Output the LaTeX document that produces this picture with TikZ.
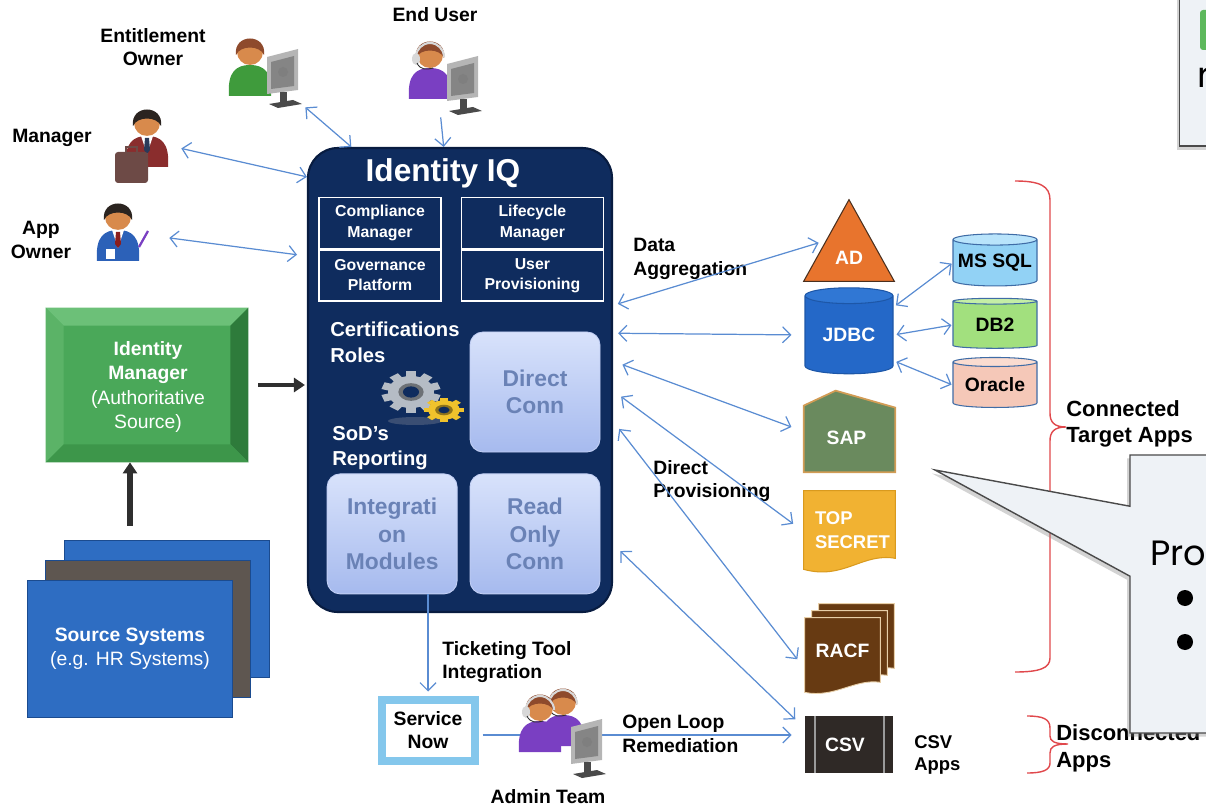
\documentclass[tikz,border=0pt]{standalone}
\usepackage{fontspec}
\setmainfont{Liberation Sans}
\newfontfamily\notefont{Poppins}
\usetikzlibrary{
    positioning,
    arrows.meta,
    calc,
    shapes.geometric,
    shapes.callouts,
    shadows
}

% palette
\definecolor{iiqnavy}{HTML}{0F2C5E}
\definecolor{iiqedge}{HTML}{081C40}
\definecolor{conntop}{HTML}{D8E2FB}
\definecolor{connbot}{HTML}{A6BAEE}
\definecolor{connedge}{HTML}{C3D0F5}
\definecolor{conntext}{HTML}{6A82B6}
\definecolor{linkblue}{HTML}{5A8CD2}
\definecolor{darkline}{HTML}{2F2F2F}
\definecolor{idmface}{HTML}{4AA859}
\definecolor{idmtop}{HTML}{6CC078}
\definecolor{idmleft}{HTML}{5BB367}
\definecolor{idmright}{HTML}{2E7B3B}
\definecolor{idmbottom}{HTML}{3D964A}
\definecolor{srcblue}{HTML}{2E6DC2}
\definecolor{srcgray}{HTML}{5E5650}
\definecolor{cardedge}{HTML}{1B4B8F}
\definecolor{adorange}{HTML}{E8742D}
\definecolor{adedge}{HTML}{4A2F1E}
\definecolor{jdbcblue}{HTML}{2468C8}
\definecolor{jdbctop}{HTML}{3077D4}
\definecolor{jdbcedge}{HTML}{1D57A8}
\definecolor{sqlblue}{HTML}{92D2F5}
\definecolor{sqltop}{HTML}{B9E4FB}
\definecolor{db2green}{HTML}{A2E07E}
\definecolor{db2top}{HTML}{C4EEA6}
\definecolor{oraclepink}{HTML}{F5C8B8}
\definecolor{oracletop}{HTML}{FADCD0}
\definecolor{dbedge}{HTML}{3F6CA6}
\definecolor{sapgreen}{HTML}{6A8A5E}
\definecolor{sapedge}{HTML}{D29C55}
\definecolor{secretgold}{HTML}{F1B232}
\definecolor{secretedge}{HTML}{D99A1E}
\definecolor{racfbrown}{HTML}{673A12}
\definecolor{racfedge}{HTML}{E8CFA8}
\definecolor{csvdark}{HTML}{2F2926}
\definecolor{csvline}{HTML}{9A9A9A}
\definecolor{bracered}{HTML}{E0484C}
\definecolor{notefill}{HTML}{EEF2F6}
\definecolor{noteedge}{HTML}{4A4A4A}
\definecolor{taggreen}{HTML}{5DB85C}
\definecolor{snowblue}{HTML}{84C7EC}
\definecolor{skin}{HTML}{D88A4C}
\definecolor{hairdark}{HTML}{2B2420}
\definecolor{hairauburn}{HTML}{8E4A2C}
\definecolor{ownergreen}{HTML}{3F9B3C}
\definecolor{userpurple}{HTML}{7A3FC2}
\definecolor{suitred}{HTML}{8A2D2D}
\definecolor{suitblue}{HTML}{2C61B8}
\definecolor{tiered}{HTML}{8B1E1E}
\definecolor{tiedark}{HTML}{2A3A5A}
\definecolor{casebrown}{HTML}{6D4A46}
\definecolor{screenback}{HTML}{B5B5B5}
\definecolor{screenface}{HTML}{858585}
\definecolor{screenstand}{HTML}{4A4A4A}
\definecolor{headsetgray}{HTML}{D8D8D8}
\definecolor{gearsilver}{HTML}{B5BCC5}
\definecolor{gearyellow}{HTML}{F0C22C}
\definecolor{gearshadow}{HTML}{3A4E73}

\begin{document}
\begin{tikzpicture}[
    x=0.2mm, y=-0.2mm,
    lbl/.style={font=\fontsize{11}{13.5}\selectfont\bfseries, align=center, inner sep=0pt},
    sidelbl/.style={lbl, align=left, anchor=west},
    holder/.style={inner sep=0pt},
    module/.style={
        draw=white, line width=0.8pt, text=white, align=center,
        font=\fontsize{9}{11.5}\selectfont\bfseries,
        minimum width=24.4mm, minimum height=10.2mm, inner sep=0pt
    },
    conn/.style={
        rounded corners=2.6mm, top color=conntop, bottom color=connbot,
        draw=connedge, line width=0.5pt, text=conntext, align=center,
        font=\fontsize{13}{15.5}\selectfont\bfseries,
        minimum width=26mm, minimum height=24mm
    },
    feature/.style={
        text=white, align=left, anchor=north west, inner sep=0pt,
        font=\fontsize{11.5}{14.5}\selectfont\bfseries
    },
    db/.style={
        cylinder, shape border rotate=90, draw=dbedge, line width=0.6pt,
        cylinder uses custom fill, inner sep=0pt,
        font=\fontsize{11}{13}\selectfont\bfseries
    },
    appname/.style={text=white, inner sep=0pt, font=\fontsize{11}{13}\selectfont\bfseries},
    card/.style={draw=cardedge, line width=0.8pt, minimum width=41mm, minimum height=27.4mm},
    link/.style={{Straight Barb[length=1.6mm,width=3.2mm]}-{Straight Barb[length=1.6mm,width=3.2mm]},
        draw=linkblue, line width=0.7pt},
    feed/.style={-{Straight Barb[length=1.6mm,width=3.2mm]}, draw=linkblue, line width=0.7pt},
    heavy/.style={-{Triangle[length=2.2mm,width=2.8mm]}, draw=darkline, line width=1.3mm},
    redbrace/.style={draw=bracered, line width=0.8pt},
    note/.style={fill=notefill, draw=noteedge, line width=0.8pt,
        drop shadow={shadow xshift=-0.6mm, shadow yshift=-0.7mm, opacity=0.35}},
    bulletdot/.style={circle, fill=black, inner sep=0pt, minimum size=3.2mm},
    pics/figure/.style n args={2}{code={
        \fill[#1] (-21,44) .. controls (-23,19) and (-13,13) .. (0,13)
            .. controls (13,13) and (23,19) .. (21,44) -- cycle;
        \fill[skin] (0,0) circle (13);
        \fill[#2] (-14,3) .. controls (-17,-19) and (17,-19) .. (14,3)
            .. controls (10,-7) and (-10,-7) .. (-14,3) -- cycle;
    }},
    pics/tie/.style={code={
        \fill[white] (-6,13) -- (6,13) -- (0,31) -- cycle;
        \fill[#1] (-2,15) -- (2,15) -- (3,27) -- (0,31) -- (-3,27) -- cycle;
    }},
    pics/headset/.style={code={
        \draw[headsetgray, line width=1.2pt] (-14,2) arc (180:360:14);
        \fill[headsetgray] (-14,4) ellipse (4 and 6);
        \draw[darkline, line width=0.5pt] (-13,8) .. controls (-10,15) and (-3,15) .. (3,13);
    }},
    pics/screen/.style={code={
        \fill[screenback] (-16,-18) -- (15,-26) -- (15,15) -- (-16,19) -- cycle;
        \fill[screenface] (-12,-13) -- (11,-19) -- (11,11) -- (-12,14) -- cycle;
        \fill[screenback!70!black] (0,-3) circle (5);
        \fill[screenstand] (-3,17) rectangle (4,27);
        \fill[screenstand] (-14,29) -- (10,25) -- (19,29) -- (-5,33) -- cycle;
    }},
    pics/gear/.style n args={3}{code={
        \foreach \k in {1,...,#3}
            \fill[#1, rotate=\k*360/#3] (-0.22*#2,-1.28*#2) rectangle (0.22*#2,-0.8*#2);
        \fill[#1] (0,0) circle (#2);
        \fill[#1!60!black] (0,0) circle (0.55*#2);
        \fill[iiqnavy] (0,0) circle (0.35*#2);
    }}
]

\useasboundingbox (0,0) rectangle (1206,808);
\clip (0,0) rectangle (1206,808);

% ============================== USERS ==============================
\node[lbl] (entlbl) at (153,47) {Entitlement\\Owner};
\node[holder, minimum width=16mm, minimum height=12.8mm] (entown) at (265,75) {};
\pic at ($(entown)+(-15,-23)$) {figure={ownergreen}{hairauburn}};
\pic at ($(entown)+(18,0)$) {screen};

\node[lbl] (endlbl) at (435,15) {End User};
\node[holder, minimum width=18mm, minimum height=12mm] (enduser) at (440,80) {};
\pic at ($(enduser)+(-10,-25)$) {figure={userpurple}{hairauburn}};
\pic at ($(enduser)+(-10,-25)$) {headset};
\pic at ($(enduser)+(23,2)$) {screen};

\node[lbl] (mgrlbl) at (52,138) {Manager};
\node[holder, minimum width=13.6mm, minimum height=16mm] (mgr) at (145,148) {};
\pic at ($(mgr)+(2,-25)$) {figure={suitred}{hairdark}};
\pic at ($(mgr)+(2,-25)$) {tie=tiedark};
\fill[casebrown, rounded corners=0.6mm] ($(mgr)+(-30,4)$) rectangle ($(mgr)+(3,35)$);
\draw[casebrown, line width=1pt] ($(mgr)+(-19,4)$) -- ++(0,-5) -- ++(11,0) -- ++(0,5);

\node[lbl] (applbl) at (41,240) {App\\Owner};
\node[holder, minimum width=14mm, minimum height=14mm] (appown) at (127,237) {};
\pic at ($(appown)+(-9,-20)$) {figure={suitblue}{hairdark}};
\pic at ($(appown)+(-9,-20)$) {tie=tiered};
\fill[white] ($(appown)+(-21,12)$) rectangle ($(appown)+(-12,22)$);
\draw[userpurple, line width=1.3pt] ($(appown)+(12,10)$) -- ($(appown)+(21,-6)$);

% ============================== IDENTITY IQ ==============================
\node[draw=iiqedge, fill=iiqnavy, line width=1.2pt, rounded corners=6mm,
      minimum width=60.8mm, minimum height=92.8mm] (iiq) at (460,380) {};
\node[text=white, font=\fontsize{18}{20}\selectfont\bfseries] (iiqtitle) at (443,173) {Identity IQ};

% IIQ: product modules
\node[module] (cm) at (380,223) {Compliance\\Manager};
\node[module, minimum width=28.4mm, right=3.8mm of cm] (lm) {Lifecycle\\Manager};
\node[module, below=0pt of cm] (gp) {Governance\\Platform};
\node[module, minimum width=28.4mm, below=0pt of lm] (up) {User\\Provisioning};

% IIQ: features and connectors
\node[feature] (certs) at (330,322) {Certifications\\Roles};
\node[feature] (sod) at (332,426) {SoD's\\Reporting};

\fill[gearshadow] (415,421) ellipse (27 and 4);
\pic[yscale=0.7] at (411,392) {gear={gearsilver}{23}{10}};
\pic[yscale=0.6] at (444,410) {gear={gearyellow}{16}{8}};

\node[conn] (dconn) at (535,392) {Direct\\Conn};
\node[conn, below=4.2mm of dconn] (rdconn) {Read\\Only\\Conn};
\node[conn, left=2.4mm of rdconn] (intmod) {Integrati\\on\\Modules};

% ============================== AUTHORITATIVE SOURCE ==============================
\node[fill=idmface, minimum width=40.4mm, minimum height=30.8mm] (idm) at (147,385) {};
\fill[idmtop] (idm.north west) -- (idm.north east) -- ($(idm.north east)+(-18,18)$) -- ($(idm.north west)+(18,18)$) -- cycle;
\fill[idmleft] (idm.north west) -- (idm.south west) -- ($(idm.south west)+(18,-18)$) -- ($(idm.north west)+(18,18)$) -- cycle;
\fill[idmright] (idm.north east) -- (idm.south east) -- ($(idm.south east)+(-18,-18)$) -- ($(idm.north east)+(-18,18)$) -- cycle;
\fill[idmbottom] (idm.south west) -- (idm.south east) -- ($(idm.south east)+(-18,-18)$) -- ($(idm.south west)+(18,-18)$) -- cycle;
\node[text=white, align=center, font=\fontsize{11}{14}\selectfont] (idmtext) at (148,387)
    {\textbf{Identity}\\\textbf{Manager}\\(Authoritative\\Source)};

\node[card, fill=srcblue] (srcback) at (167,609) {};
\node[card, fill=srcgray] (srcmid) at (148,629) {};
\node[card, fill=srcblue, text=white, align=center, font=\fontsize{11}{13.5}\selectfont] (src) at (130,649)
    {\textbf{Source Systems}\\(e.g. HR Systems)};

\draw[heavy] ($(src.north |- srcback.north)+(0,-14)$) -- (src.north |- idm.south);
\draw[heavy, line width=0.8mm, shorten <=2mm, shorten >=0.4mm] (idm.east) -- (idm.east -| iiq.west);

% user links
\draw[link] (entown.south east) -- (iiq.115.8);
\draw[feed, shorten <=1.4mm] (enduser.south) -- (iiq.94.9);
\draw[link, shorten <=0.4mm] (mgr.east) -- (iiq.127.9);
\draw[link, shorten <=1.4mm, shorten >=2mm] (appown.east) -- (iiq.141.3);

% ============================== TARGET APPS ==============================
\node[holder, minimum width=18mm, minimum height=16.2mm] (ad) at (849,240.5) {};
\filldraw[fill=adorange, draw=adedge, line width=0.6pt] (ad.south west) -- (ad.north) -- (ad.south east) -- cycle;
\node[appname] (adname) at ($(ad)+(0,17)$) {AD};

\node[db, cylinder body fill=jdbcblue, cylinder end fill=jdbctop, draw=jdbcedge, text=white,
      minimum width=17.6mm, minimum height=17.2mm, aspect=0.3] (jdbc) at (849,335) {JDBC};
\node[db, cylinder body fill=sqlblue, cylinder end fill=sqltop,
      minimum width=16.8mm, minimum height=10.4mm, aspect=0.15] (mssql) at (995,263) {MS SQL};
\node[db, cylinder body fill=db2green, cylinder end fill=db2top,
      minimum width=16.8mm, minimum height=10mm, aspect=0.15] (db2) at (995,325) {DB2};
\node[db, cylinder body fill=oraclepink, cylinder end fill=oracletop,
      minimum width=16.8mm, minimum height=10mm, aspect=0.15] (oracle) at (995,385) {Oracle};

\node[holder, minimum width=18.2mm, minimum height=16.2mm] (sap) at (849.5,431.5) {};
\filldraw[fill=sapgreen, draw=sapedge, line width=1pt] (sap.south west) -- ($(sap.north west)+(0,15)$)
    -- ($(sap.north west)+(32,0)$) -- ($(sap.north east)+(0,17)$) -- (sap.south east) -- cycle;
\node[appname] (sapname) at ($(sap)+(-3,6)$) {SAP};

\node[holder, minimum width=18.2mm, minimum height=16.2mm] (topsec) at (849.5,531.5) {};
\filldraw[fill=secretgold, draw=secretedge, line width=0.6pt] (topsec.north west) -- (topsec.north east)
    -- ($(topsec.south east)+(0,-14)$) .. controls ($(topsec.south east)+(-33,-20)$) and ($(topsec.south west)+(40,8)$)
    .. ($(topsec.south west)+(0,-3)$) -- cycle;
\node[appname, align=left, anchor=north west, font=\fontsize{10.5}{13.5}\selectfont\bfseries] (topsecname)
    at ($(topsec.north west)+(11,21)$) {TOP\\SECRET};

\node[holder, minimum width=15mm, minimum height=14.8mm] (racf) at (842.5,655) {};
\foreach \d in {14,7,0}
    \filldraw[fill=racfbrown, draw=racfedge, line width=0.5pt] ($(racf.north west)+(\d,-\d)$) -- ($(racf.north east)+(\d,-\d)$)
        -- ($(racf.south east)+(\d,-\d-10)$) .. controls ($(racf.south east)+(\d-25,-\d-14)$) and ($(racf.south west)+(\d+30,-\d+6)$)
        .. ($(racf.south west)+(\d,-\d)$) -- cycle;
\node[appname] (racfname) at ($(racf)+(0,-4)$) {RACF};

\node[holder, fill=csvdark, minimum width=17.6mm, minimum height=11.4mm] (csv) at (849,744.5) {};
\draw[csvline, line width=1.2pt] ($(csv.north west)+(10,0)$) -- ($(csv.south west)+(10,0)$);
\draw[csvline, line width=1.2pt] ($(csv.north east)+(-9,0)$) -- ($(csv.south east)+(-9,0)$);
\node[appname] (csvname) at ($(csv)+(-4,0)$) {CSV};
\node[sidelbl, font=\fontsize{10.5}{13}\selectfont\bfseries] (csvlbl) at (914,755) {CSV\\Apps};

% flow labels
\node[sidelbl] (agglbl) at (633,259) {Data\\Aggregation};
\node[sidelbl] (provlbl) at (653,481) {Direct\\Provisioning};

% IIQ to apps
\draw[link, shorten <=1mm, shorten >=1.6mm] (iiq.26) -- ($(ad.south west)!0.5!(ad.north)$);
\draw[link, shorten <=1mm, shorten >=2.6mm] (iiq.17) -- (jdbc.west);
\draw[link, shorten <=2mm, shorten >=2.6mm] (iiq.7.5) -- (sap.west);
\draw[link, shorten <=2mm, shorten >=2.6mm] (iiq.-4.5) -- (topsec.west);
\draw[link, shorten <=2mm, shorten >=2.4mm] (iiq.-15.5) -- (racf.200);
\draw[link, shorten <=2mm, shorten >=2.6mm] (iiq.-47.3) -- (csv.160);

% JDBC to databases
\draw[link, shorten <=0.6mm, shorten >=0.2mm] (jdbc.32) -- (mssql.west);
\draw[link, shorten <=0.6mm, shorten >=0.2mm] (jdbc.east) -- (db2.west);
\draw[link, shorten <=0.6mm, shorten >=0.2mm] (jdbc.-30) -- (oracle.west);

% ============================== TICKETING ==============================
\node[draw=snowblue, line width=1.6mm, fill=white, minimum width=18.6mm, minimum height=12.2mm,
      align=center, font=\fontsize{11}{13.5}\selectfont\bfseries] (snow) at (428,730) {Service\\Now};
\draw[feed, shorten >=0.8mm] (intmod.south -| snow.north) -- (snow.north);
\node[sidelbl] (ticketlbl) at (442,662) {Ticketing Tool\\Integration};

\draw[feed, shorten <=0.8mm, shorten >=2.6mm] ($(snow.east)+(0,5)$) -- ($(snow.east -| csv.west)+(0,5)$);
\node[sidelbl] (looplbl) at (622,734) {Open Loop\\Remediation};

\node[holder, minimum width=16mm, minimum height=14mm] (admins) at (558,738) {};
\pic at ($(admins)+(5,-36)$) {figure={userpurple}{hairauburn}};
\pic at ($(admins)+(5,-36)$) {headset};
\pic at ($(admins)+(-18,-30)$) {figure={userpurple}{hairauburn}};
\pic at ($(admins)+(-18,-30)$) {headset};
\pic at ($(admins)+(29,7)$) {screen};
\node[lbl] (admlbl) at (548,797) {Admin Team};

% ============================== GROUPING ==============================
\draw[redbrace] (1015,181) .. controls (1040,181) and (1050,186) .. (1050,200) -- (1050,413)
    .. controls (1050,422) and (1054,427) .. (1066,427) .. controls (1054,427) and (1050,432) .. (1050,441)
    -- (1050,658) .. controls (1050,668) and (1040,672) .. (1015,672);
\node[sidelbl, font=\fontsize{12.5}{14.8}\selectfont\bfseries] (connlbl) at (1066,424) {Connected\\Target Apps};

\draw[redbrace] (1027,716) .. controls (1043,716) and (1050,719) .. (1050,728) -- (1050,736)
    .. controls (1050,741) and (1054,744) .. (1068,744) .. controls (1054,744) and (1050,747) .. (1050,753)
    -- (1050,763) .. controls (1050,770) and (1043,773) .. (1027,773);
\node[sidelbl, font=\fontsize{12.5}{15.3}\selectfont\bfseries] (disclbl) at (1056,748) {Disconnected\\Apps};

% ============================== NOTES ==============================
\node[note, minimum width=24.2mm, minimum height=40mm] (notetop) at (1240,46) {};
\node[fill=taggreen, rounded corners=0.6mm, minimum width=8mm, minimum height=8mm] (notetag) at (1220,30) {};
\node[font=\notefont\fontsize{20}{24}\selectfont, anchor=base west, inner sep=0pt] (notetext) at (1197,88) {r};

\node[rectangle callout, note, minimum width=58mm, minimum height=55.6mm,
      callout absolute pointer={(935,470)}, callout pointer width=14mm] (notebig) at (1275,594) {};
\node[font=\notefont\fontsize{20}{24}\selectfont, anchor=base west, inner sep=0pt] (notehead) at (1150,565) {Pro};
\node[bulletdot] (bullet1) at (1185,598) {};
\node[bulletdot] (bullet2) at (1185,642) {};

\end{tikzpicture}
\end{document}
